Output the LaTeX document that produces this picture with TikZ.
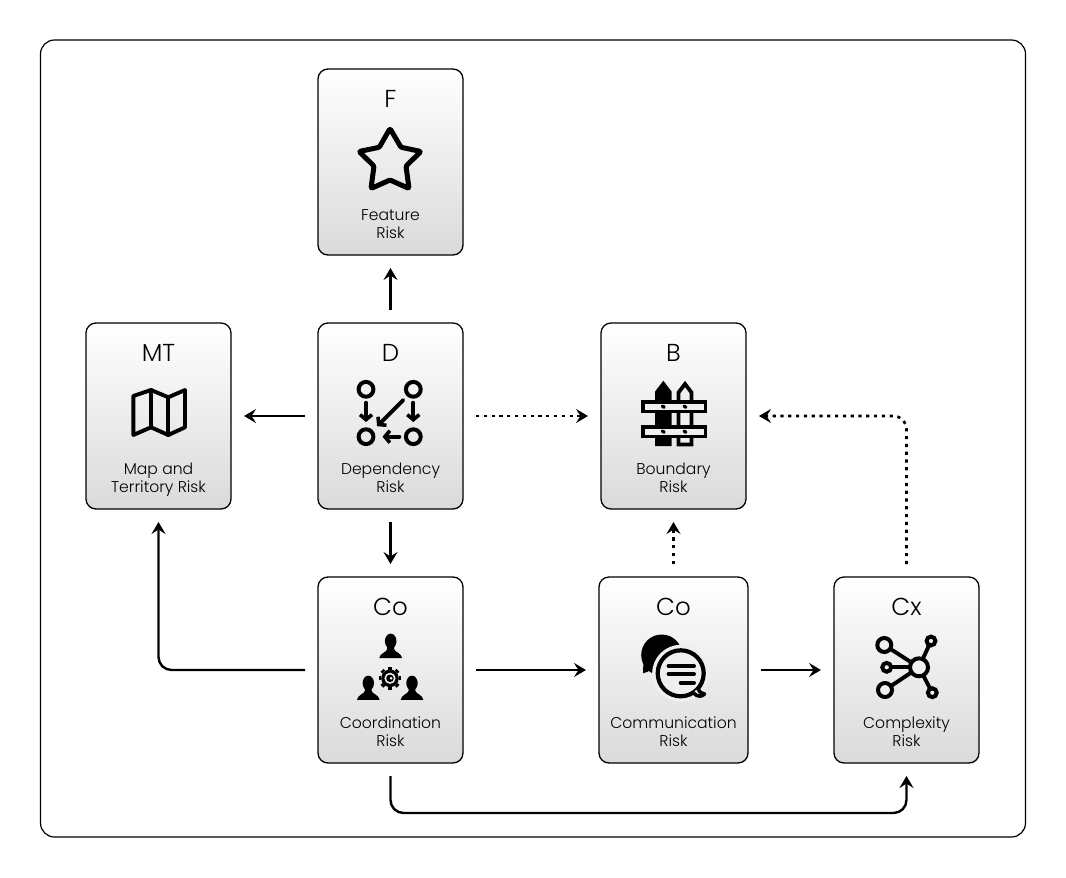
\documentclass[tikz,border=0pt]{standalone}
\usepackage{fontspec}
\setmainfont{Poppins}[UprightFont=* Light]
\usepackage{tikz}
\usetikzlibrary{arrows.meta,positioning,calc}

\definecolor{boxtop}{HTML}{FFFFFF}
\definecolor{boxbot}{HTML}{DADADA}
\definecolor{boxmid}{HTML}{EFEFEF}

\tikzset{
    person/.pic={
        \fill (0,-5) ellipse (5.8 and 7.6);
        \fill (-3.5,0) -- (3.5,0) -- (3.5,3) .. controls (4,6) and (11,7) .. (11.5,12) -- (-11.5,12) .. controls (-11,7) and (-4,6) .. (-3.5,3) -- cycle;
    }
}

\begin{document}
\begin{tikzpicture}[
    x=1pt, y=-1pt,
    node distance=68pt,
    riskbox/.style={rectangle, draw, line width=1.3pt, rounded corners=10pt, minimum width=145pt, minimum height=186pt, top color=boxtop, bottom color=boxbot, inner sep=0pt, outer sep=0pt},
    risktitle/.style={inner sep=0pt, anchor=base, font=\fontsize{24.5}{27}\selectfont},
    risklabel/.style={inner sep=0pt, anchor=base, align=center, font=\fontsize{15.6}{17.7}\selectfont},
    arrow/.style={-{Stealth[length=12pt,width=14pt,inset=4.5pt]}, line width=2.4pt, shorten >=13pt, shorten <=13pt, rounded corners=13pt},
    dotarrow/.style={arrow, line width=2.7pt, dash pattern=on 3.2pt off 4.6pt},
    iconline/.style={line width=3.9pt, line cap=round, line join=round},
    iconarrow/.style={iconline, -{Straight Barb[length=5pt,width=12pt,line width=3.6pt]}}
]
    \useasboundingbox (0,0) rectangle (1066,878);
    \node[rectangle, draw, line width=1.2pt, rounded corners=14pt, minimum width=985pt, minimum height=797pt, inner sep=0pt] (frame) at (533,438.5) {};

    \node[riskbox] (dep) at (390.5,416) {};
    \node[riskbox, above=of dep] (feat) {};
    \node[riskbox, left=87pt of dep] (mapt) {};
    \node[riskbox, right=138pt of dep] (bound) {};
    \node[riskbox, below=of dep] (coord) {};
    \node[riskbox, minimum width=149pt, right=136pt of coord] (comm) {};
    \node[riskbox, right=86pt of comm] (cplx) {};
    \coordinate (busS) at (650,813);

    % titles
    \node[risktitle] (featT) at ($(feat.north)+(0,38)$) {F};
    \node[risktitle] (maptT) at ($(mapt.north)+(0,38)$) {MT};
    \node[risktitle] (depT) at ($(dep.north)+(0,38)$) {D};
    \node[risktitle] (boundT) at ($(bound.north)+(0,38)$) {B};
    \node[risktitle] (coordT) at ($(coord.north)+(0,38)$) {Co};
    \node[risktitle] (commT) at ($(comm.north)+(0,38)$) {Co};
    \node[risktitle] (cplxT) at ($(cplx.north)+(0,38)$) {Cx};

    % labels
    \node[risklabel] (featL) at ($(feat.south)+(0,-17)$) {Feature\\Risk};
    \node[risklabel] (maptL) at ($(mapt.south)+(0,-17)$) {Map and\\Territory Risk};
    \node[risklabel] (depL) at ($(dep.south)+(0,-17)$) {Dependency\\Risk};
    \node[risklabel] (boundL) at ($(bound.south)+(0,-17)$) {Boundary\\Risk};
    \node[risklabel] (coordL) at ($(coord.south)+(0,-17)$) {Coordination\\Risk};
    \node[risklabel] (commL) at ($(comm.south)+(0,-17)$) {Communication\\Risk};
    \node[risklabel] (cplxL) at ($(cplx.south)+(0,-17)$) {Complexity\\Risk};

    % star
    \begin{scope}[shift={(feat.center)}]
        \draw[line width=5pt, line join=round, rounded corners=1.2pt] (-0.5,-33.5) -- (10.5,-14.7) -- (30.5,-10.5) -- (15.5,4) -- (18.5,26.5) -- (-0.5,18) -- (-19.5,26.5) -- (-16.5,4) -- (-31.5,-10.5) -- (-11.2,-14.7) -- cycle;
    \end{scope}

    % map
    \begin{scope}[shift={(mapt.center)}]
        \draw[iconline] (-25.2,-20) -- (-7.5,-26) -- (9.8,-18.7) -- (26.5,-26) -- (26.5,11.3) -- (9.8,19) -- (-7.5,11.3) -- (-25.2,19) -- cycle;
        \draw[iconline] (-7.5,-26) -- (-7.5,11.3);
        \draw[iconline] (9.8,-18.7) -- (9.8,19);
    \end{scope}

    % graph of dependencies
    \begin{scope}[shift={(dep.center)}]
        \foreach \px/\py in {-24.5/-26.7, 22.8/-26.7, -24.5/20.7, 22.8/20.7}
            \draw[line width=4pt] (\px,\py) circle (7.4);
        \draw[iconarrow] (-24.5,-13.3) -- (-24.5,6);
        \draw[iconarrow] (22.8,-13.3) -- (22.8,6);
        \draw[iconarrow] (12.8,-16) -- (-13.4,10.2);
        \draw[iconarrow] (8.8,20.7) -- (-8,20.7);
    \end{scope}

    % fence
    \begin{scope}[shift={(bound.center)}]
        \fill (-18.5,30) -- (-18.5,-24.3) -- (-10.2,-35.3) -- (-1.8,-24.3) -- (-1.8,30) -- cycle;
        \draw[line width=3.8pt, line join=miter, fill=boxmid] (5,28.5) -- (5,-23.5) -- (11.5,-32) -- (18,-23.5) -- (18,28.5) -- cycle;
        \foreach \ry in {-16, 9} {
            \draw[line width=3.8pt, fill=boxmid] (-30.6,\ry+1.9) rectangle (31.9,\ry+11.4);
            \foreach \rx in {-10.2, 11.5}
                \fill[rotate around={-30:(\rx,\ry+6.7)}] (\rx,\ry+6.7) ellipse (2.5 and 1.8);
        }
    \end{scope}

    % people and gear
    \begin{scope}[shift={(coord.center)}]
        \pic at (0.2,-23.8) {person};
        \pic[scale=0.98] at (-22.2,18) {person};
        \pic[scale=0.98] at (21.5,18) {person};
        \foreach \ang in {0,45,...,315}
            \fill[rotate around={\ang:(-0.5,8.3)}] (-2.5,-3) rectangle (1.5,-0.5);
        \fill (-0.5,8.3) circle (8.8);
        \fill[boxmid] (-0.5,8.3) circle (5.6);
        \fill (-0.5,8.3) circle (3.8);
        \fill[boxmid] (0.6,8.3) circle (1.5);
    \end{scope}

    % speech bubbles
    \begin{scope}[shift={(comm.center)}]
        \fill (-11.8,-15) circle (20.5);
        \fill (-30,-10) -- (-30.5,3.3) .. controls (-27,3) and (-24,1) .. (-22,-2) -- cycle;
        \fill[boxmid] (7.2,3.3) circle (28.5);
        \draw[line width=4.2pt] (7.2,3.3) circle (23);
        \draw[line width=3.6pt, line join=round, fill=boxmid] (24,18) .. controls (25,21) and (27,23) .. (31,24) .. controls (28,27) and (24,27) .. (20,23);
        \draw[iconline] (-5,-4) -- (20.5,-4);
        \draw[iconline] (-5,4) -- (20.5,4);
        \draw[iconline] (7.2,12.7) -- (20.5,12.7);
    \end{scope}

    % network
    \begin{scope}[shift={(cplx.center)}]
        \draw[iconline] (12.5,-2.7) -- (-22.2,-25);
        \draw[iconline] (12.5,-2.7) -- (-19.8,-2.7);
        \draw[iconline] (12.5,-2.7) -- (-21.5,20);
        \draw[iconline] (12.5,-2.7) -- (24.5,-29);
        \draw[iconline] (12.5,-2.7) -- (25.8,22.7);
        \draw[line width=4pt, fill=boxmid] (12.5,-2.7) circle (9);
        \draw[line width=4pt, fill=boxmid] (-22.2,-25) circle (7);
        \draw[line width=4pt, fill=boxmid] (-19.8,-2.7) circle (4.4);
        \draw[line width=4pt, fill=boxmid] (-21.5,20) circle (7);
        \draw[line width=4pt, fill=boxmid] (24.5,-29) circle (4.4);
        \draw[line width=4pt, fill=boxmid] (25.8,22.7) circle (4.4);
    \end{scope}

    \draw[arrow] (dep) -- (feat);
    \draw[arrow] (dep) -- (mapt);
    \draw[dotarrow] (dep) -- (bound);
    \draw[arrow] (dep) -- (coord);
    \draw[arrow] (coord.west) -| (mapt.south);
    \draw[arrow] (coord) -- (comm);
    \draw[arrow] (comm) -- (cplx);
    \draw[arrow] (coord.south) |- (busS) -| (cplx.south);
    \draw[dotarrow] (comm) -- (bound);
    \draw[dotarrow] (cplx.north) |- (bound.east);
\end{tikzpicture}
\end{document}
